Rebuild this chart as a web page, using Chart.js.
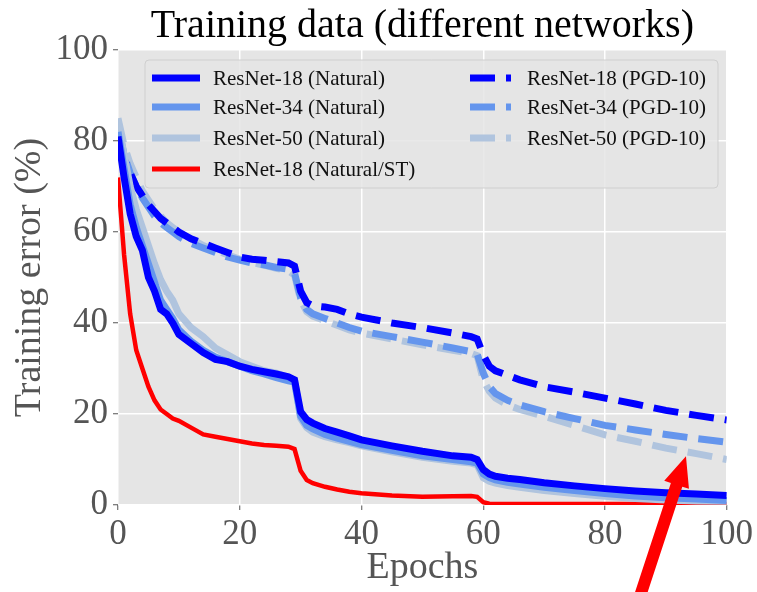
<!DOCTYPE html>
<html>
<head>
<meta charset="utf-8">
<title>Training data (different networks)</title>
<script src="https://cdn.jsdelivr.net/npm/chart.js@4.4.1/dist/chart.umd.min.js"></script>
<style>
  html, body { margin: 0; padding: 0; background: #fff; }
  #wrap { width: 757px; height: 592px; }
</style>
</head>
<body>
<div id="wrap"><canvas id="chart" width="757" height="592"></canvas></div>
<script>
// values (training error in %, per epoch)
const epochs = [0, 1, 2, 3, 4, 5, 6, 7, 8, 9, 10, 12, 14, 16, 18, 20, 22, 24, 26, 28, 29, 30, 31, 32, 34, 36, 38, 40, 45, 50, 55, 58, 59, 60, 61, 62, 64, 66, 70, 75, 80, 85, 90, 95, 100];

const r18Natural = [81, 72, 64, 59, 56, 50, 47, 43, 42, 40, 37.5, 35.5, 33.5, 32, 31.5, 30.5, 29.8, 29.3, 28.8, 28.2, 27.5, 20.5, 18.8, 18, 16.8, 16, 15.2, 14.3, 13, 11.8, 10.8, 10.5, 10, 7.8, 6.8, 6.3, 5.9, 5.6, 4.9, 4.2, 3.6, 3.1, 2.7, 2.4, 2.1];
const r34Natural = [82, 74, 66, 61, 57, 53, 49, 45, 43, 41, 38.5, 36, 34, 32.5, 31.5, 30.5, 29.5, 28.8, 28, 27.3, 27, 19.5, 17.5, 16.7, 15.5, 14.7, 14, 13.3, 12, 10.8, 10, 9.5, 9.2, 6.8, 6, 5.5, 5, 4.6, 3.9, 3.2, 2.5, 2, 1.6, 1.3, 1];
const r50Natural = [84, 77, 70, 65, 61, 57, 53, 49.5, 47, 45, 42, 39, 37, 34.5, 33, 31.5, 30.5, 29.5, 29, 28, 27.5, 19, 17, 16, 15, 14.3, 13.7, 13, 11.7, 10.5, 9.6, 9.2, 8.8, 6, 5.2, 4.8, 4.3, 3.9, 3.2, 2.5, 1.9, 1.4, 1.1, 0.9, 0.8];
const r18NaturalST = [72, 55, 42, 34, 30, 26, 23, 21, 20, 19, 18.5, 17, 15.5, 15, 14.5, 14, 13.5, 13.2, 13, 12.8, 12.3, 7.5, 5.5, 4.8, 4, 3.4, 2.9, 2.6, 2.1, 1.8, 1.9, 2, 1.8, 0.6, 0.3, 0.2, 0.2, 0.2, 0.2, 0.2, 0.2, 0.2, 0.2, 0.2, 0.2];
const r18PGD = [80, 76, 73, 70, 68, 66, 64.5, 63, 62, 61, 60, 58.5, 57.5, 56.5, 55.5, 54.5, 54, 53.8, 53.5, 53.2, 52.5, 47, 44.5, 43.8, 43.5, 43, 42, 41.3, 40, 39, 37.8, 37, 36.5, 33, 30.5, 29.5, 28.5, 27.5, 26, 24.8, 23.5, 22.2, 20.8, 19.7, 18.7];
const r34PGD = [83, 77, 73, 70, 67.5, 65.5, 63.5, 62, 61, 60, 59, 57.5, 56.5, 55.5, 54.5, 53.8, 53.2, 52.8, 52.2, 51.8, 51, 45.5, 43, 42, 41, 40, 39, 38.2, 37, 35.8, 34.5, 33.7, 33.2, 29, 26, 24.5, 23, 22, 20.5, 19, 17.5, 16.5, 15.5, 14.6, 13.8];
const r50PGD = [85, 79, 75, 72, 69, 67, 65, 63.5, 62, 61, 60, 58.5, 57, 56, 55, 54, 53.3, 52.7, 52, 51.5, 50.5, 45, 42.5, 41.5, 40.5, 39.5, 38.5, 37.8, 36.5, 35.2, 34, 33.3, 32.8, 27.5, 25, 23.5, 22, 21, 19.5, 17.5, 15.4, 14, 12.5, 11.3, 10];

const xTicks = [0, 20, 40, 60, 80, 100];
const yTicks = [0, 20, 40, 60, 80, 100];

// red annotation arrow points at this spot of the ResNet-50 (PGD-10) curve
const arrowEpoch = 93.3;
const arrowValue = 10.7;

const SERIF = '"Liberation Serif", "DejaVu Serif", serif';
const DASH = [25, 11];

const toPoints = vals => vals.map((v, i) => ({ x: epochs[i], y: v }));

const series = [
  { label: 'ResNet-18 (Natural)', data: r18Natural, color: '#0000ff', width: 7, dash: [] },
  { label: 'ResNet-34 (Natural)', data: r34Natural, color: '#6495ed', width: 7, dash: [] },
  { label: 'ResNet-50 (Natural)', data: r50Natural, color: '#b0c4de', width: 7, dash: [] },
  { label: 'ResNet-18 (Natural/ST)', data: r18NaturalST, color: '#ff0000', width: 4.5, dash: [] },
  { label: 'ResNet-18 (PGD-10)', data: r18PGD, color: '#0000ff', width: 7, dash: DASH },
  { label: 'ResNet-34 (PGD-10)', data: r34PGD, color: '#6495ed', width: 7, dash: DASH },
  { label: 'ResNet-50 (PGD-10)', data: r50PGD, color: '#b0c4de', width: 7, dash: DASH }
];

// grey panel behind the plot (ggplot look)
const panelBg = {
  id: 'panelBg',
  beforeDraw(chart) {
    const { ctx, chartArea: a } = chart;
    ctx.save();
    ctx.fillStyle = '#e5e5e5';
    ctx.fillRect(a.left, a.top, a.right - a.left, a.bottom - a.top);
    ctx.restore();
  }
};

// two-column legend like the matplotlib one
const boxLegend = {
  id: 'boxLegend',
  afterDatasetsDraw(chart) {
    const { ctx } = chart;
    const box = { x: 145, y: 60, w: 573, h: 128 };
    ctx.save();
    ctx.beginPath();
    ctx.roundRect(box.x, box.y, box.w, box.h, 4);
    ctx.fillStyle = 'rgba(229,229,229,0.85)';
    ctx.fill();
    ctx.strokeStyle = 'rgba(204,204,204,0.9)';
    ctx.lineWidth = 1;
    ctx.stroke();

    const rows = [78, 107, 138, 169];
    const cols = [{ line: 152, text: 213 }, { line: 470, text: 527 }];
    ctx.font = '21px ' + SERIF;
    ctx.textBaseline = 'middle';
    ctx.fillStyle = '#111';
    series.forEach((s, i) => {
      const col = s.dash.length ? cols[1] : cols[0];
      const row = s.dash.length ? i - 4 : i;
      const y = rows[row];
      ctx.beginPath();
      ctx.setLineDash(s.dash);
      ctx.lineCap = 'butt';
      ctx.strokeStyle = s.color;
      ctx.lineWidth = s.dash.length ? 7 : (s.width < 7 ? 5 : 7);
      ctx.moveTo(col.line, y);
      ctx.lineTo(col.line + (s.dash.length ? 41 : 48), y);
      ctx.stroke();
      ctx.setLineDash([]);
      ctx.fillText(s.label, col.text, y + 1);
    });
    ctx.restore();
  }
};

// red arrow annotation
const arrow = {
  id: 'arrow',
  afterDraw(chart) {
    const { ctx, scales } = chart;
    const tx = scales.x.getPixelForValue(arrowEpoch);
    const ty = scales.y.getPixelForValue(arrowValue);
    const ang = Math.atan2(-140, 46);
    const ux = Math.cos(ang), uy = Math.sin(ang);
    const px = -uy, py = ux;
    const headLen = 30, headHalf = 13, shaftHalf = 6;
    const bx = tx - ux * headLen, by = ty - uy * headLen;
    const ex = tx - ux * 160, ey = ty - uy * 160;
    ctx.save();
    ctx.fillStyle = '#ff0000';
    ctx.beginPath();
    ctx.moveTo(ex + px * shaftHalf, ey + py * shaftHalf);
    ctx.lineTo(bx + px * shaftHalf, by + py * shaftHalf);
    ctx.lineTo(bx + px * headHalf, by + py * headHalf);
    ctx.lineTo(tx, ty);
    ctx.lineTo(bx - px * headHalf, by - py * headHalf);
    ctx.lineTo(bx - px * shaftHalf, by - py * shaftHalf);
    ctx.lineTo(ex - px * shaftHalf, ey - py * shaftHalf);
    ctx.closePath();
    ctx.fill();
    ctx.restore();
  }
};

new Chart(document.getElementById('chart').getContext('2d'), {
  type: 'line',
  data: {
    datasets: series.map(s => ({
      label: s.label,
      data: toPoints(s.data),
      borderColor: s.color,
      backgroundColor: s.color,
      borderWidth: s.width,
      borderDash: s.dash,
      pointRadius: 0,
      tension: 0,
      fill: false
    }))
  },
  options: {
    responsive: false,
    animation: false,
    layout: { padding: { left: 0, right: 29, top: 0, bottom: 0 } },
    plugins: {
      legend: { display: false },
      tooltip: { enabled: false },
      title: {
        display: true,
        fullSize: false,
        text: 'Training data (different networks)',
        color: '#000',
        font: { family: SERIF, size: 40, weight: 'normal', lineHeight: 1.2 },
        padding: { top: 2, bottom: 0 }
      }
    },
    scales: {
      x: {
        type: 'linear',
        min: 0,
        max: 100,
        afterFit: s => { s.height = 87; },
        afterBuildTicks: s => { s.ticks = xTicks.map(v => ({ value: v })); },
        grid: { color: '#ffffff', lineWidth: 1.5, tickColor: '#555', tickLength: 5, tickWidth: 1 },
        border: { display: false },
        ticks: { color: '#555', padding: 4, font: { family: SERIF, size: 35 } },
        title: {
          display: true,
          text: 'Epochs',
          color: '#555',
          font: { family: SERIF, size: 38, lineHeight: 1.2 },
          padding: { top: 0, bottom: 1 }
        }
      },
      y: {
        type: 'linear',
        min: 0,
        max: 100,
        afterFit: s => { s.width = 118; },
        afterBuildTicks: s => { s.ticks = yTicks.map(v => ({ value: v })); },
        grid: { color: '#ffffff', lineWidth: 1.5, tickColor: '#555', tickLength: 5, tickWidth: 1 },
        border: { display: false },
        ticks: { color: '#555', padding: 5, font: { family: SERIF, size: 35 } },
        title: {
          display: true,
          text: 'Training error (%)',
          color: '#555',
          font: { family: SERIF, size: 38, lineHeight: 1.2 },
          padding: { top: 7, bottom: 0 }
        }
      }
    }
  },
  plugins: [panelBg, boxLegend, arrow]
});
</script>
</body>
</html>
